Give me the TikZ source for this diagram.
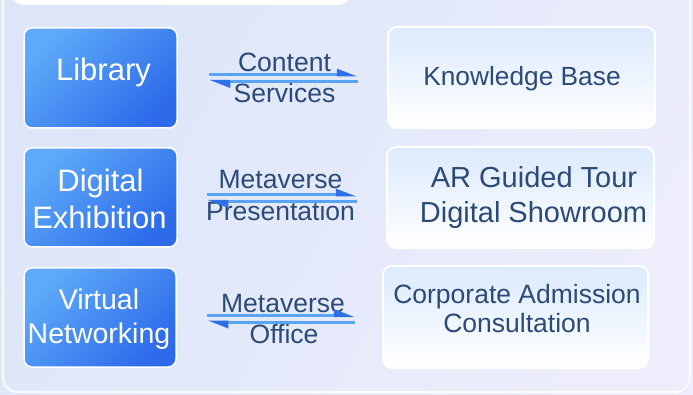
\documentclass[tikz,border=0pt]{standalone}
\usepackage{fontspec}
\setmainfont{Liberation Sans}
\usetikzlibrary{arrows.meta}
\definecolor{bgA}{HTML}{DCE6F8}
\definecolor{bgB}{HTML}{EDEDFB}
\definecolor{blueA}{HTML}{5EAAF9}
\definecolor{blueB}{HTML}{2D6BEA}
\definecolor{lightA}{HTML}{DBEAFD}
\definecolor{navy}{HTML}{2C4A78}
\definecolor{shaft}{HTML}{5AA4F6}
\definecolor{tipc}{HTML}{2F6FE8}
\tikzset{
  leftbox/.style={draw=white, line width=1.5pt, rounded corners=8pt,
    top color=blueA, bottom color=blueB, shading angle=45, inner sep=0pt},
  rightbox/.style={draw=white, line width=2pt, rounded corners=9pt,
    top color=lightA, bottom color=white, inner sep=0pt},
  wtext/.style={text=white, inner sep=0pt, anchor=base},
  dtext/.style={text=navy, inner sep=0pt, anchor=base},
  lbl/.style={dtext, font=\fontsize{26.5}{30}\selectfont},
  conn/.style={draw=shaft, line width=3pt,
    -{Triangle[harpoon, length=17pt, width=12pt, color=tipc]}},
}
\begin{document}
\begin{tikzpicture}[x=1pt,y=-1pt]
\useasboundingbox (0,0) rectangle (693,395);
% background
\shade[left color=bgA, right color=bgB, shading angle=60] (0,0) rectangle (693,395);
\draw[white, line width=2pt, opacity=0.85, rounded corners=15pt]
  (3,-30) -- (3,392) -- (690,392) -- (690,-30);
\fill[white, rounded corners=14pt] (10,-30) rectangle (352,5);

% left boxes
\node[leftbox, minimum width=153pt, minimum height=100pt] (lib) at (100.5,78) {};
\node[leftbox, minimum width=153pt, minimum height=99pt] (dex) at (100.5,197.5) {};
\node[leftbox, minimum width=152pt, minimum height=99pt] (vnw) at (100,317.5) {};

% right boxes
\node[rightbox, minimum width=267pt, minimum height=101pt] (kb) at (521.5,77.5) {};
\node[rightbox, minimum width=267pt, minimum height=101pt] (ar) at (520.5,197.5) {};
\node[rightbox, minimum width=265pt, minimum height=102pt] (cac) at (515.5,317) {};

% left texts
\node[wtext, font=\fontsize{31}{36}\selectfont] (libT) at (103.5,81) {Library};
\node[wtext, font=\fontsize{31}{36}\selectfont] (dexT1) at (100.5,192) {Digital};
\node[wtext, font=\fontsize{31}{36}\selectfont] (dexT2) at (99.5,229) {Exhibition};
\node[wtext, font=\fontsize{28.5}{34}\selectfont] (vnwT1) at (99,309) {Virtual};
\node[wtext, font=\fontsize{28.5}{34}\selectfont] (vnwT2) at (99,343) {Networking};

% right texts
\node[dtext, font=\fontsize{26.3}{30}\selectfont] (kbT) at (522,86) {Knowledge Base};
\node[dtext, font=\fontsize{29}{34}\selectfont] (arT1) at (534,188) {AR Guided Tour};
\node[dtext, font=\fontsize{29}{34}\selectfont] (arT2) at (533.5,223) {Digital Showroom};
\node[dtext, font=\fontsize{26.5}{30}\selectfont] (cacT1) at (517,303) {Corporate Admission};
\node[dtext, font=\fontsize{26.5}{30}\selectfont] (cacT2) at (517,332) {Consultation};

% arrow labels
\node[lbl] (l1a) at (284.5,72) {Content};
\node[lbl] (l1b) at (284.5,103) {Services};
\node[lbl] (l2a) at (280.5,189) {Metaverse};
\node[lbl] (l2b) at (280.5,221) {Presentation};
\node[lbl] (l3a) at (283,312) {Metaverse};
\node[lbl] (l3b) at (284,343) {Office};

% arrows
\coordinate (a1s) at (209,75);  \coordinate (a1e) at (358,75);
\coordinate (b1s) at (358,81.5);  \coordinate (b1e) at (209,81.5);
\coordinate (a2s) at (207,195); \coordinate (a2e) at (357,195);
\coordinate (b2s) at (357,201.5); \coordinate (b2e) at (207,201.5);
\coordinate (a3s) at (207,315.5); \coordinate (a3e) at (355,315.5);
\coordinate (b3s) at (355,322); \coordinate (b3e) at (207,322);
\draw[conn] (a1s) -- (a1e);
\draw[conn] (b1s) -- (b1e);
\draw[conn] (a2s) -- (a2e);
\draw[conn] (b2s) -- (b2e);
\draw[conn] (a3s) -- (a3e);
\draw[conn] (b3s) -- (b3e);
\end{tikzpicture}
\end{document}
